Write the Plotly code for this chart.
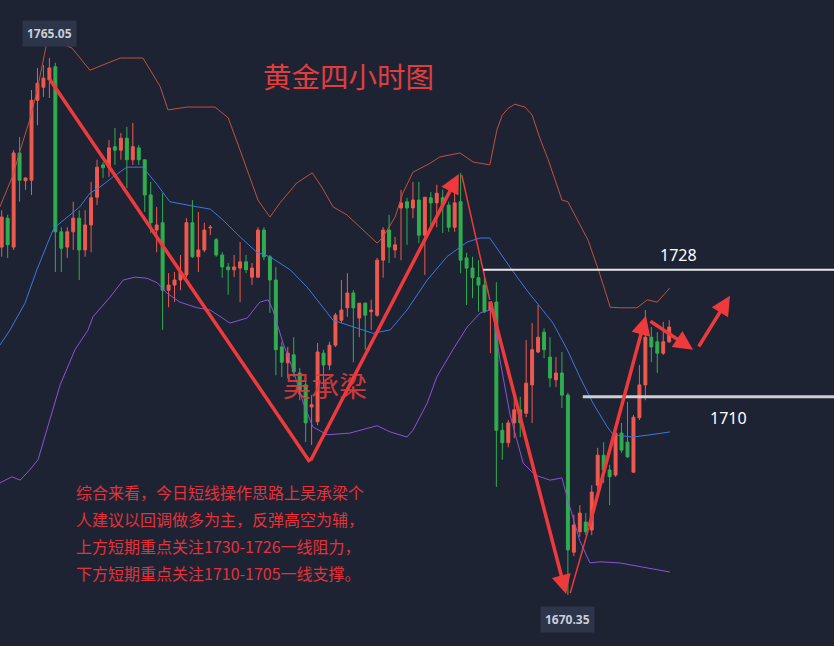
import plotly.graph_objects as go

# ---------------- data ----------------
OPEN = [1731.7, 1736.8, 1731.7, 1748.3, 1743.4, 1743.5, 1757.6, 1759.9, 1761.2, 1763.5,
        1734.4, 1731.7, 1734.4, 1736.8, 1731.2, 1735.6, 1740.5, 1746.2, 1745.8, 1749.4,
        1748.8, 1750.9, 1747.1, 1749.2, 1747.1, 1740.9, 1734.7, 1736.0, 1724.1, 1725.0,
        1725.9, 1726.8, 1736.0, 1730.0, 1731.2, 1735.1, 1733.0, 1730.3, 1728.2, 1727.7,
        1728.0, 1729.1, 1726.4, 1726.4, 1734.7, 1730.0, 1725.9, 1714.1, 1711.3, 1712.7,
        1709.5, 1707.4, 1703.5, 1700.9, 1713.0, 1710.9, 1714.4, 1718.8, 1721.0, 1723.6,
        1719.2, 1721.8, 1720.3, 1719.7, 1729.4, 1734.7, 1731.2, 1738.6, 1739.7, 1738.6,
        1740.0, 1733.8, 1740.4, 1739.5, 1740.4, 1739.1, 1735.2, 1739.7, 1729.8, 1728.0,
        1726.3, 1725.0, 1720.6, 1722.0, 1699.4, 1697.2, 1700.7, 1703.0, 1702.4, 1707.4,
        1713.2, 1716.7, 1712.3, 1708.3, 1709.5, 1705.6, 1677.9, 1681.5, 1683.2, 1681.8,
        1689.7, 1695.0, 1692.4, 1691.5, 1698.9, 1697.3, 1692.0, 1701.6, 1707.4, 1715.8,
        1715.0, 1713.0, 1715.0]
HIGH = [1738.2, 1737.4, 1748.8, 1751.1, 1743.9, 1759.4, 1763.3, 1763.8, 1765.05, 1764.2,
        1735.2, 1735.2, 1739.7, 1738.2, 1738.2, 1743.2, 1747.1, 1746.7, 1750.6, 1752.7,
        1751.8, 1752.9, 1753.6, 1749.7, 1747.1, 1743.2, 1738.8, 1741.2, 1727.1, 1727.3,
        1730.3, 1736.8, 1740.0, 1737.9, 1736.0, 1735.6, 1733.3, 1730.8, 1728.9, 1730.3,
        1732.6, 1730.3, 1728.9, 1735.2, 1735.2, 1730.3, 1728.2, 1715.0, 1714.1, 1715.8,
        1710.4, 1708.3, 1705.6, 1714.8, 1713.6, 1715.0, 1720.1, 1725.9, 1727.1, 1724.1,
        1721.8, 1722.0, 1722.4, 1729.8, 1735.2, 1737.4, 1733.5, 1741.8, 1740.4, 1743.2,
        1743.2, 1740.5, 1741.4, 1742.7, 1741.8, 1739.7, 1742.1, 1744.8, 1730.7, 1730.0,
        1729.4, 1726.3, 1722.0, 1725.5, 1700.7, 1701.2, 1705.1, 1705.3, 1715.3, 1718.3,
        1721.5, 1717.4, 1715.8, 1712.3, 1713.2, 1706.0, 1684.5, 1686.2, 1684.8, 1689.7,
        1696.3, 1697.3, 1693.3, 1700.0, 1700.7, 1704.4, 1702.1, 1710.9, 1720.6, 1717.6,
        1716.7, 1718.5, 1718.8]
LOW = [1730.0, 1729.8, 1731.2, 1739.7, 1741.8, 1740.9, 1753.2, 1758.2, 1758.0, 1727.3,
       1727.3, 1729.8, 1731.2, 1725.9, 1730.0, 1730.8, 1739.1, 1743.9, 1744.1, 1746.2,
       1747.1, 1742.1, 1746.2, 1746.2, 1737.9, 1734.2, 1730.8, 1717.1, 1721.1, 1722.0,
       1724.1, 1726.4, 1729.8, 1727.3, 1730.8, 1733.8, 1730.0, 1726.3, 1723.3, 1726.4,
       1722.0, 1727.1, 1725.0, 1726.3, 1729.4, 1720.1, 1709.1, 1708.8, 1708.6, 1708.8,
       1704.7, 1697.3, 1696.8, 1700.3, 1707.0, 1710.0, 1714.1, 1718.3, 1719.4, 1711.4,
       1715.8, 1713.6, 1717.1, 1719.4, 1726.3, 1728.9, 1729.8, 1729.4, 1732.1, 1736.8,
       1732.4, 1726.8, 1735.6, 1735.2, 1734.2, 1734.4, 1734.4, 1727.1, 1721.5, 1722.7,
       1720.3, 1720.1, 1713.0, 1689.4, 1694.2, 1696.4, 1698.0, 1698.2, 1701.7, 1700.7,
       1713.0, 1712.1, 1707.0, 1707.0, 1703.3, 1670.35, 1677.2, 1680.6, 1680.9, 1680.9,
       1688.3, 1690.1, 1686.2, 1691.2, 1695.4, 1694.5, 1692.0, 1701.2, 1704.7, 1711.4,
       1709.5, 1712.7, 1714.8]
CLOSE = [1737.0, 1732.1, 1748.3, 1743.5, 1743.9, 1757.6, 1760.6, 1761.5, 1763.3, 1734.4,
         1731.5, 1734.4, 1736.8, 1731.2, 1735.6, 1740.4, 1745.8, 1745.7, 1749.2, 1748.8,
         1750.9, 1747.1, 1749.4, 1747.1, 1740.9, 1736.0, 1735.6, 1724.1, 1725.0, 1725.9,
         1727.3, 1736.0, 1730.0, 1731.2, 1734.7, 1735.2, 1730.3, 1728.2, 1727.7, 1728.2,
         1729.1, 1727.7, 1728.0, 1734.7, 1730.0, 1725.9, 1713.6, 1711.4, 1713.0, 1709.7,
         1706.5, 1700.7, 1703.9, 1713.2, 1710.9, 1714.4, 1719.7, 1720.6, 1723.6, 1721.0,
         1721.8, 1719.7, 1720.6, 1729.4, 1734.7, 1731.7, 1732.1, 1739.5, 1738.6, 1740.0,
         1733.8, 1740.5, 1739.5, 1741.2, 1739.1, 1735.2, 1739.5, 1729.4, 1728.0, 1726.3,
         1725.0, 1720.3, 1722.0, 1699.4, 1697.2, 1700.7, 1703.0, 1700.7, 1707.7, 1713.6,
         1715.8, 1713.6, 1708.6, 1709.5, 1705.6, 1678.3, 1682.7, 1684.8, 1681.5, 1688.5,
         1695.0, 1692.4, 1691.2, 1698.9, 1695.9, 1694.7, 1701.7, 1707.4, 1715.8, 1714.1,
         1713.0, 1715.0, 1717.6]
BAR_INDEX = list(range(len(OPEN)))

# Bollinger band vertices (candle index, price)
UPPER_X = [-0.3, 1.9, 3.1, 4.7, 5.9, 6.9, 7.6, 9.4, 11.8, 14.8, 19.9, 23.7, 26.6, 27.9, 31.1,
           35.8, 38.0, 40.0, 43.0, 45.0, 46.7, 49.5, 52.1, 53.7, 55.6, 57.9, 63.0, 64.0, 66.0,
           67.3, 69.0, 71.9, 73.5, 76.9, 79.1, 81.9, 83.1, 84.0, 85.0, 86.1, 87.8, 89.0, 90.3,
           91.7, 94.0, 95.0, 98.4, 100.4, 102.1, 103.7, 106.6, 108.3, 110.0, 112.1]
UPPER_Y = [1738.8, 1744.4, 1748.8, 1754.1, 1759.1, 1764.3, 1767.9, 1767.9, 1766.8, 1762.9,
           1765.05, 1765.05, 1760.0, 1755.9, 1756.4, 1756.4, 1754.5, 1748.8, 1740.0, 1737.0,
           1739.5, 1743.0, 1744.8, 1742.3, 1738.8, 1737.4, 1732.4, 1733.5, 1737.0, 1741.2,
           1744.9, 1746.5, 1747.6, 1748.3, 1746.7, 1746.2, 1752.4, 1755.0, 1756.2, 1756.9,
           1756.4, 1755.0, 1750.9, 1747.1, 1740.0, 1739.7, 1732.9, 1726.8, 1721.1, 1721.0,
           1721.0, 1722.4, 1722.0, 1724.5]
MID_X = [-0.3, 1.4, 3.9, 5.9, 8.6, 9.4, 13.1, 14.8, 16.5, 18.7, 21.0, 23.7, 26.1, 28.2, 32.8,
         35.0, 37.1, 40.0, 42.8, 45.0, 48.4, 51.2, 55.6, 58.9, 62.3, 65.2, 68.0, 71.4, 74.7,
         78.1, 80.3, 81.9, 83.6, 85.6, 88.1, 90.3, 92.5, 94.9, 97.0, 99.2, 101.6, 102.6,
         105.9, 108.8, 112.1]
MID_Y = [1714.4, 1717.1, 1721.8, 1727.7, 1734.7, 1735.6, 1738.8, 1741.2, 1742.3, 1744.1,
         1745.8, 1745.8, 1742.7, 1739.7, 1738.8, 1738.4, 1736.5, 1733.5, 1730.8, 1730.0,
         1727.7, 1724.7, 1718.8, 1717.6, 1716.5, 1717.1, 1720.6, 1725.9, 1730.0, 1732.6,
         1733.3, 1733.3, 1730.7, 1727.7, 1724.1, 1721.1, 1718.3, 1713.6, 1708.8, 1704.2,
         1700.0, 1698.6, 1698.2, 1698.6, 1699.1]
LOWER_X = [-0.3, 1.7, 3.1, 4.7, 6.1, 8.1, 9.8, 12.3, 14.5, 15.3, 18.2, 20.4, 22.4, 24.4, 26.1,
           27.7, 29.9, 32.8, 35.0, 38.3, 41.2, 43.3, 44.7, 45.5, 47.2, 48.9, 50.6, 52.2, 54.6,
           58.4, 63.0, 65.2, 68.0, 69.0, 71.4, 73.0, 75.7, 78.1, 80.3, 81.9, 82.4, 83.6, 85.3,
           87.5, 89.5, 92.0, 94.0, 95.0, 97.0, 98.7, 100.4, 103.7, 105.9, 108.8, 112.1]
LOWER_Y = [1690.1, 1691.2, 1690.6, 1692.4, 1694.2, 1701.2, 1707.4, 1713.6, 1717.1, 1719.4,
           1722.9, 1725.9, 1726.4, 1726.2, 1725.4, 1723.6, 1722.0, 1721.0, 1720.6, 1718.3,
           1719.2, 1722.0, 1722.4, 1720.6, 1714.8, 1710.0, 1704.2, 1700.0, 1698.6, 1698.9,
           1700.2, 1699.1, 1698.2, 1699.4, 1704.2, 1708.8, 1713.6, 1717.6, 1720.1, 1720.6,
           1720.1, 1711.8, 1702.1, 1693.6, 1691.5, 1690.6, 1691.0, 1687.1, 1679.9, 1676.0,
           1676.2, 1676.0, 1675.6, 1675.1, 1674.4]

# Hand-drawn trend strokes: (x_from, y_from, x_to, y_to) in (candle index, price)
ARROWS = [(51.7, 1693.8, 76.7, 1744.6),
          (81.9, 1722.4, 94.7, 1670.5),
          (98.5, 1682.2, 108.1, 1719.6),
          (108.6, 1718.8, 116.0, 1713.6),
          (116.8, 1713.9, 122.2, 1723.1)]
THICK_LINES = [(8.1, 1761.2, 51.7, 1693.8)]
THIN_LINES = [(77.2, 1744.4, 81.9, 1722.4),
              (95.4, 1670.7, 98.9, 1683.6)]

# Key levels
LEVEL_PRICE = [1727.7, 1705.3]
LEVEL_START = [80.8, 97.5]
LEVEL_TEXT = ["1728", "1710"]
LEVEL_TEXT_X = [113.5, 121.9]

TITLE = "黄金四小时图"
AUTHOR = "吴承梁"
NOTE_LINES = ["综合来看，今日短线操作思路上吴承梁个",
              "人建议以回调做多为主，反弹高空为辅，",
              "上方短期重点关注1730-1726一线阻力，",
              "下方短期重点关注1710-1705一线支撑。"]

# ---------------- style ----------------
BG = "#1e2333"
UP = "#ef5a4f"
DOWN = "#2fae4e"
DRAW = "#ee3a3c"
CJK = "Noto Sans CJK SC"

fig = go.Figure()

fig.add_trace(go.Scatter(x=UPPER_X, y=UPPER_Y, mode="lines",
                         line=dict(color="#c2503f", width=1), hoverinfo="skip"))
fig.add_trace(go.Scatter(x=MID_X, y=MID_Y, mode="lines",
                         line=dict(color="#3b78dc", width=1), hoverinfo="skip"))
fig.add_trace(go.Scatter(x=LOWER_X, y=LOWER_Y, mode="lines",
                         line=dict(color="#8a52d6", width=1), hoverinfo="skip"))

fig.add_trace(go.Candlestick(
    x=BAR_INDEX, open=OPEN, high=HIGH, low=LOW, close=CLOSE,
    increasing=dict(line=dict(color=UP, width=1), fillcolor=UP),
    decreasing=dict(line=dict(color=DOWN, width=1), fillcolor=DOWN),
    whiskerwidth=0, hoverinfo="skip"))

shapes = []
for (x0, y0, x1, y1) in THICK_LINES:
    shapes.append(dict(type="line", xref="x", yref="y", x0=x0, y0=y0, x1=x1, y1=y1,
                       line=dict(color=DRAW, width=3.5)))
for (x0, y0, x1, y1) in THIN_LINES:
    shapes.append(dict(type="line", xref="x", yref="y", x0=x0, y0=y0, x1=x1, y1=y1,
                       line=dict(color=DRAW, width=1.5)))
for p, s, w, c in zip(LEVEL_PRICE, LEVEL_START, [2, 3], ["#e8e8e8", "#cfcfcf"]):
    shapes.append(dict(type="line", xref="x", yref="y", x0=s, x1=150, y0=p, y1=p,
                       line=dict(color=c, width=w)))

annotations = []
for (x0, y0, x1, y1) in ARROWS:
    annotations.append(dict(x=x1, y=y1, ax=x0, ay=y0, xref="x", yref="y",
                            axref="x", ayref="y", text="", showarrow=True,
                            arrowhead=2, arrowsize=1.1, arrowwidth=3.5,
                            arrowcolor=DRAW, standoff=0))

annotations.append(dict(x=LEVEL_TEXT_X[0], y=LEVEL_PRICE[0], xref="x", yref="y",
                        text=LEVEL_TEXT[0], showarrow=False, xanchor="center",
                        yanchor="bottom", yshift=2,
                        font=dict(family="Noto Sans", size=16, color="#ffffff")))
annotations.append(dict(x=LEVEL_TEXT_X[1], y=LEVEL_PRICE[1], xref="x", yref="y",
                        text=LEVEL_TEXT[1], showarrow=False, xanchor="center",
                        yanchor="top", yshift=-8,
                        font=dict(family="Noto Sans", size=16, color="#ffffff")))

# high / low price tags
hi_i = HIGH.index(max(HIGH))
lo_i = LOW.index(min(LOW))
annotations.append(dict(x=hi_i, y=HIGH[hi_i], xref="x", yref="y", text=f"<b>{HIGH[hi_i]:.2f}</b>",
                        showarrow=False, xanchor="center", yanchor="bottom", yshift=11,
                        bgcolor="#2c3549", borderpad=4,
                        font=dict(family="Noto Sans", size=12, color="#c9ced8")))
annotations.append(dict(x=lo_i, y=LOW[lo_i], xref="x", yref="y", text=f"<b>{LOW[lo_i]:.2f}</b>",
                        showarrow=False, xanchor="center", yanchor="top", yshift=-11,
                        bgcolor="#2c3549", borderpad=4,
                        font=dict(family="Noto Sans", size=12, color="#c9ced8")))

annotations.append(dict(x=348 / 834, y=1 - 75 / 646, xref="paper", yref="paper", text=TITLE,
                        showarrow=False, xanchor="center", yanchor="middle",
                        font=dict(family=CJK, size=28.5, color="#e23d3d")))
annotations.append(dict(x=325 / 834, y=1 - 385 / 646, xref="paper", yref="paper", text=AUTHOR,
                        showarrow=False, xanchor="center", yanchor="middle",
                        font=dict(family=CJK, size=28, color="rgba(228,60,60,0.9)")))
for k, line in enumerate(NOTE_LINES):
    annotations.append(dict(x=74 / 834, y=1 - (492 + 27 * k) / 646, xref="paper", yref="paper",
                            text=line, showarrow=False, xanchor="left", yanchor="middle",
                            font=dict(family=CJK, size=16, color="#e3323a")))

fig.update_layout(
    width=834, height=646, margin=dict(l=0, r=0, t=0, b=0),
    paper_bgcolor=BG, plot_bgcolor=BG, showlegend=False,
    shapes=shapes, annotations=annotations,
    xaxis=dict(range=[-0.285, 139.65], visible=False, rangeslider=dict(visible=False),
               fixedrange=True),
    yaxis=dict(range=[1661.35, 1775.28], visible=False, fixedrange=True),
)

fig.write_html("out.html", config={"displayModeBar": False},
               post_script="document.body.style.margin='0';document.body.style.overflow='hidden';"
                           "document.body.style.background='" + BG + "';")
